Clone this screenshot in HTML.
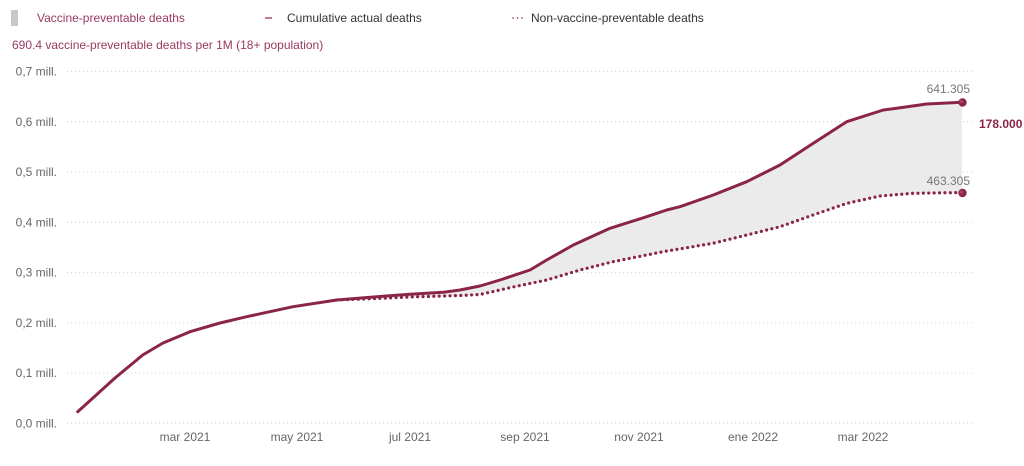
<!DOCTYPE html>
<html><head><meta charset="utf-8"><style>
html,body{margin:0;padding:0;background:#fff;}
svg{display:block;font-family:"Liberation Sans",sans-serif;}
</style></head><body>
<svg width="1024" height="466" viewBox="0 0 1024 466" xmlns="http://www.w3.org/2000/svg">
<!-- legend -->
<rect x="11" y="10" width="7" height="16" fill="#c8c8c8"/>
<text x="37" y="22" font-size="12" fill="#9a3a61">Vaccine-preventable deaths</text>
<line x1="265" y1="18" x2="272" y2="18" stroke="#8b2548" stroke-width="1.2"/>
<text x="287" y="22" font-size="12" fill="#333">Cumulative actual deaths</text>
<line x1="513" y1="18" x2="525" y2="18" stroke="#8b2548" stroke-width="1.6" stroke-dasharray="0 4.5" stroke-linecap="round"/>
<text x="531" y="22" font-size="12" fill="#333">Non-vaccine-preventable deaths</text>
<text x="12" y="49" font-size="12" fill="#9a3a61">690.4 vaccine-preventable deaths per 1M (18+ population)</text>

<!-- grid -->
<g stroke="#d4d4d4" stroke-width="1" stroke-dasharray="1.2 2.8">
<line x1="67" y1="423.3" x2="972" y2="423.3"/>
<line x1="67" y1="373.0" x2="972" y2="373.0"/>
<line x1="67" y1="322.8" x2="972" y2="322.8"/>
<line x1="67" y1="272.5" x2="972" y2="272.5"/>
<line x1="67" y1="222.2" x2="972" y2="222.2"/>
<line x1="67" y1="172.0" x2="972" y2="172.0"/>
<line x1="67" y1="121.7" x2="972" y2="121.7"/>
<line x1="67" y1="71.4" x2="972" y2="71.4"/>
</g>
<g font-size="12" fill="#666" text-anchor="end">
<text x="57" y="427.5">0,0 mill.</text>
<text x="57" y="377.2">0,1 mill.</text>
<text x="57" y="327">0,2 mill.</text>
<text x="57" y="276.7">0,3 mill.</text>
<text x="57" y="226.4">0,4 mill.</text>
<text x="57" y="176.2">0,5 mill.</text>
<text x="57" y="125.9">0,6 mill.</text>
<text x="57" y="75.6">0,7 mill.</text>
</g>
<g font-size="12" fill="#666" text-anchor="middle">
<text x="185" y="441">mar 2021</text>
<text x="297" y="441">may 2021</text>
<text x="410" y="441">jul 2021</text>
<text x="525" y="441">sep 2021</text>
<text x="639" y="441">nov 2021</text>
<text x="753" y="441">ene 2022</text>
<text x="863" y="441">mar 2022</text>
</g>

<!-- fill area -->
<polygon fill="#ebebeb" points="336.7,300 376.7,296.7 410,294.3 443,292.3 460,290 480,286 500,280 530,270 546.7,260 573.3,245 610,228.3 646.7,216.7 666.7,210 680,206.7 713.3,195 746.7,181.7 780,165 813.3,143.3 846.7,121.7 883.3,110 896.7,108.3 926.7,104 962,102.3 962,192.5 913,193.3 880,196 847,203.3 813,215 780,226.7 746.7,235 713,243.3 663,251.7 613,261.7 580,270 546.7,280 513,287 480,294.5 460,295.5 443,296 410,297 376.7,298.5"/>

<!-- dotted line -->
<polyline fill="none" stroke="#8b2548" stroke-width="3.2" stroke-linecap="round" stroke-linejoin="round" stroke-dasharray="0 5.4" points="336.7,300 376.7,298.5 410,297 443,296 460,295.5 480,294.5 513,287 546.7,280 580,270 613,261.7 663,251.7 713,243.3 746.7,235 780,226.7 813,215 847,203.3 880,196 913,193.3 962,192.5"/>

<!-- solid line -->
<polyline fill="none" stroke="#8b2548" stroke-width="3" stroke-linecap="round" stroke-linejoin="round" points="77.7,411.7 115,378 142.7,355 163,343 190,331.7 220,323 246.7,316.7 293,306.7 336.7,300 376.7,296.7 410,294.3 443,292.3 460,290 480,286 500,280 530,270 546.7,260 573.3,245 610,228.3 646.7,216.7 666.7,210 680,206.7 713.3,195 746.7,181.7 780,165 813.3,143.3 846.7,121.7 883.3,110 896.7,108.3 926.7,104 962,102.3"/>

<!-- end markers -->
<circle cx="962.5" cy="102.5" r="4.2" fill="#8b2548"/>
<circle cx="962.5" cy="193" r="4.2" fill="#8b2548"/>
<circle cx="961.5" cy="101.5" r="1.8" fill="#b0587a" opacity="0.6"/>
<circle cx="961.5" cy="192" r="1.8" fill="#b0587a" opacity="0.6"/>

<!-- value labels -->
<g font-size="12" fill="#777" text-anchor="end">
<text x="970" y="93">641.305</text>
<text x="970" y="185">463.305</text>
</g>
<text x="979" y="128" font-size="12" font-weight="bold" fill="#8b2548">178.000</text>
</svg>
</body></html>
